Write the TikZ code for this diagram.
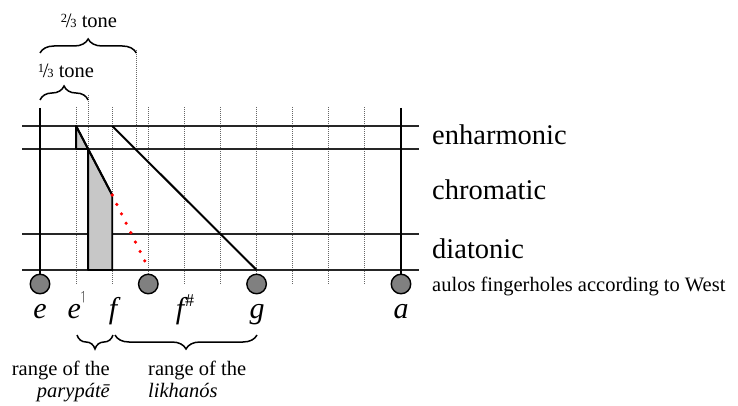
\documentclass[tikz,border=0pt]{standalone}
\usepackage{amssymb}
\usepackage{fontspec}
\setmainfont{Liberation Serif}
\usetikzlibrary{decorations.pathreplacing}
\newcommand\frc[2]{\raisebox{.55ex}{\fontsize{12.5}{12}\selectfont #1}\kern-.06em/\kern-.06em{\fontsize{12.5}{12}\selectfont #2}}
\begin{document}
\begin{tikzpicture}[x=1pt,y=-1pt,
  hline/.style={line width=1.1pt, black!85},
  vthick/.style={line width=2.6pt},
  gridline/.style={line width=0.9pt, black!60, dash pattern=on 1pt off 1pt},
  hole/.style={circle, draw, line width=1.4pt, fill=black!50, minimum size=19.5pt, inner sep=0pt},
  note/.style={font=\fontsize{30}{32}\selectfont\itshape, anchor=base, inner sep=0pt},
  genus/.style={font=\fontsize{28.5}{30}\selectfont, anchor=base west, inner sep=0pt},
  smalltxt/.style={font=\fontsize{20.5}{22}\selectfont, inner sep=0pt},
  bracestyle/.style={decorate, decoration={brace, amplitude=14pt}, line width=1.5pt},
  mbracestyle/.style={decorate, decoration={brace, amplitude=14pt, mirror}, line width=1.5pt},
  shade/.style={fill=black!22, draw, line width=1.8pt, line join=round}
]
\useasboundingbox (0,0) rectangle (738,406);
% grid dotted lines
\foreach \k in {1,...,9}{
  \draw[gridline] ({40+36.1*\k},107) -- ({40+36.1*\k},285);
}
\draw[gridline] (88.1,95) -- (88.1,149);
\draw[gridline] (136.3,50) -- (136.3,149);
% horizontal lines
\coordinate (hl1) at (22,126); \coordinate (hr1) at (419,126);
\coordinate (hl2) at (22,149); \coordinate (hr2) at (419,149);
\coordinate (hl3) at (22,234); \coordinate (hr3) at (419,234);
\coordinate (hl4) at (22,270); \coordinate (hr4) at (419,270);
\draw[hline] (hl1) -- (hr1);
\draw[hline] (hl2) -- (hr2);
\draw[hline] (hl3) -- (hr3);
\draw[hline] (hl4) -- (hr4);
% shaded shapes
\draw[shade] (76.1,126) -- (88.1,149) -- (76.1,149) -- cycle;
\draw[shade] (88.1,149) -- (112.2,195) -- (112.2,270) -- (88.1,270) -- cycle;
\draw[line width=2pt, line cap=round] (76.1,126) -- (112.2,195);
% red dotted
\draw[red, line width=3.6pt, line cap=round, dash pattern=on 0pt off 10.5pt] (112.2,195) -- (148.3,268);
% enharmonic diagonal
\draw[line width=2pt] (112.2,126) -- (256.6,270);
% holes
\node[hole] (he) at (40,284) {};
\node[hole] (hf) at (148.3,284) {};
\node[hole] (hg) at (256.6,284) {};
\node[hole] (ha) at (401,284) {};
\coordinate (te) at (40,108);
\coordinate (ta) at (401,108);
\draw[vthick] (te) -- (he.north);
\draw[vthick] (ta) -- (ha.north);
% note labels
\node[note] (ne) at (40,318) {e};
\node[note] (neu) at (77,318) {e\raisebox{1.25ex}{\fontsize{13}{13}\selectfont$\upharpoonleft$}};
\node[note] (nf) at (113,318) {f};
\node[note] (nfs) at (185,318) {f\kern1pt\raisebox{0.8ex}{\fontsize{18}{18}\selectfont\upshape\#}};
\node[note] (ng) at (257,318) {g};
\node[note] (na) at (401,318) {a};
% genus labels
\node[genus] (enh) at (432,145) {enharmonic};
\node[genus] (chr) at (432,200) {chromatic};
\node[genus] (dia) at (432,258) {diatonic};
\node[smalltxt, anchor=base west] (aul) at (432,291) {aulos fingerholes according to West};
% top braces
\coordinate (b1l) at (40,100); \coordinate (b1r) at (88.1,100);
\coordinate (b2l) at (40,53); \coordinate (b2r) at (136.3,53);
\draw[bracestyle] (b1l) -- (b1r);
\draw[bracestyle] (b2l) -- (b2r);
\node[smalltxt, anchor=base] (t1) at (66,78) {\frc13 tone};
\node[smalltxt, anchor=base] (t2) at (89,28) {\frc23 tone};
% bottom braces
\coordinate (b3l) at (77,335); \coordinate (b3r) at (113,335);
\coordinate (b4l) at (115,335); \coordinate (b4r) at (257,335);
\draw[mbracestyle] (b3l) -- (b3r);
\draw[mbracestyle] (b4l) -- (b4r);
\node[smalltxt, anchor=base east] (r1) at (110,375) {range of the};
\node[smalltxt, anchor=base east] (p1) at (110,397) {\itshape parypátē};
\node[smalltxt, anchor=base west] (r2) at (148,375) {range of the};
\node[smalltxt, anchor=base west] (p2) at (148,397) {\itshape likhanós};
\end{tikzpicture}
\end{document}
